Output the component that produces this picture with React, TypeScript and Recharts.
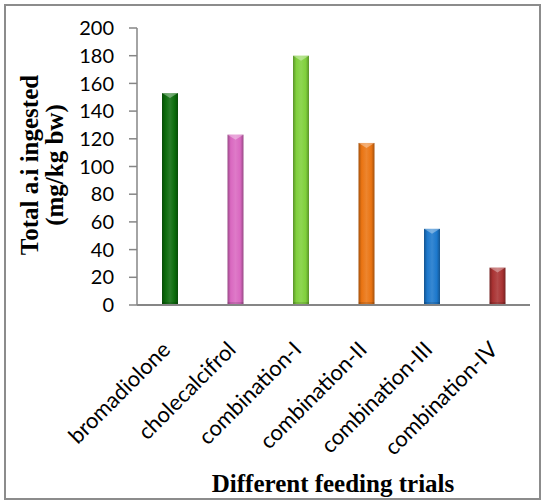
import { BarChart, Bar, XAxis, YAxis, Cell } from "recharts";

const trials = [
  "bromadiolone",
  "cholecalcifrol",
  "combination-I",
  "combination-II",
  "combination-III",
  "combination-IV",
];
const ingested = [153, 123, 180, 117, 55, 27];
const barColors = ["#0b6b0b", "#d968c0", "#80d03c", "#ea7412", "#1c78cc", "#a93232"];
const yTicks = [0, 20, 40, 60, 80, 100, 120, 140, 160, 180, 200];

const data = trials.map((name, i) => ({ name, value: ingested[i] }));

const AXIS_COLOR = "#868686";
const TICK_FONT = "Lato, 'Open Sans', sans-serif";
const TITLE_FONT = "'Liberation Serif', 'Times New Roman', serif";

function shade(hex: string, amt: number) {
  const n = parseInt(hex.slice(1), 16);
  const mix = (c: number) => {
    const t = amt < 0 ? 0 : 255;
    const p = Math.abs(amt);
    return Math.round(c + (t - c) * p);
  };
  const r = mix((n >> 16) & 255);
  const g = mix((n >> 8) & 255);
  const b = mix(n & 255);
  return `rgb(${r},${g},${b})`;
}

function CylinderBar(props: any) {
  const { x, y, width, height, index } = props;
  if (!height || height <= 0) return null;
  const tip = Math.min(width / 2, 5);
  return (
    <g>
      <rect x={x} y={y} width={width} height={height} fill={`url(#barGrad${index})`} />
      <path
        d={`M${x},${y} L${x + width},${y} L${x + width / 2},${y + tip} Z`}
        fill="#ffffff"
        fillOpacity={0.35}
      />
      <rect x={x} y={y + height - 3} width={width} height={3} fill="#000" fillOpacity={0.12} />
    </g>
  );
}

function TrialTick(props: any) {
  const { x, y, payload } = props;
  const ax = x + 2;
  const ay = y + 38;
  return (
    <text
      x={ax}
      y={ay}
      transform={`rotate(-45, ${ax}, ${ay})`}
      textAnchor="end"
      fontFamily={TICK_FONT}
      fontSize={22}
      fill="#000"
    >
      {payload.value}
    </text>
  );
}

function AxisTitles() {
  return (
    <g fontFamily={TITLE_FONT} fontWeight="bold" fill="#000">
      <text x={38} y={165} transform="rotate(-90, 38, 165)" textAnchor="middle" fontSize={25}>
        Total a.i ingested
      </text>
      <text x={63} y={165} transform="rotate(-90, 63, 165)" textAnchor="middle" fontSize={25}>
        (mg/kg bw)
      </text>
      <text x={333} y={492} textAnchor="middle" fontSize={25}>
        Different feeding trials
      </text>
    </g>
  );
}

export default function App() {
  return (
    <div style={{ position: "absolute", left: 0, top: 0, width: 545, height: 503, background: "#fff" }}>
      <div
        style={{
          position: "absolute",
          left: 4,
          top: 4,
          width: 533,
          height: 492,
          border: "2px solid #8c8c8c",
        }}
      />
      <div style={{ position: "absolute", left: 0, top: 0 }}>
        <BarChart
          width={545}
          height={503}
          data={data}
          margin={{ top: 28, right: 15, left: 0, bottom: 0 }}
          barSize={16}
        >
          <defs>
            {barColors.map((c, i) => (
              <linearGradient key={i} id={`barGrad${i}`} x1="0" y1="0" x2="1" y2="0">
                <stop offset="0%" stopColor={shade(c, -0.3)} />
                <stop offset="20%" stopColor={c} />
                <stop offset="50%" stopColor={shade(c, 0.12)} />
                <stop offset="80%" stopColor={c} />
                <stop offset="100%" stopColor={shade(c, -0.3)} />
              </linearGradient>
            ))}
          </defs>
          <XAxis
            dataKey="name"
            interval={0}
            tickLine={false}
            axisLine={{ stroke: AXIS_COLOR, strokeWidth: 2 }}
            tick={<TrialTick />}
            height={198}
          />
          <YAxis
            width={137}
            domain={[0, 200]}
            ticks={yTicks}
            interval={0}
            tickSize={8}
            tickMargin={15}
            axisLine={{ stroke: AXIS_COLOR, strokeWidth: 1.5 }}
            tickLine={{ stroke: AXIS_COLOR, strokeWidth: 1.5 }}
            tick={{ fontFamily: TICK_FONT, fontSize: 20, fill: "#000" }}
          />
          <Bar dataKey="value" shape={<CylinderBar />} isAnimationActive={false}>
            {data.map((d, i) => (
              <Cell key={d.name} fill={barColors[i]} />
            ))}
          </Bar>
          <AxisTitles />
        </BarChart>
      </div>
    </div>
  );
}
